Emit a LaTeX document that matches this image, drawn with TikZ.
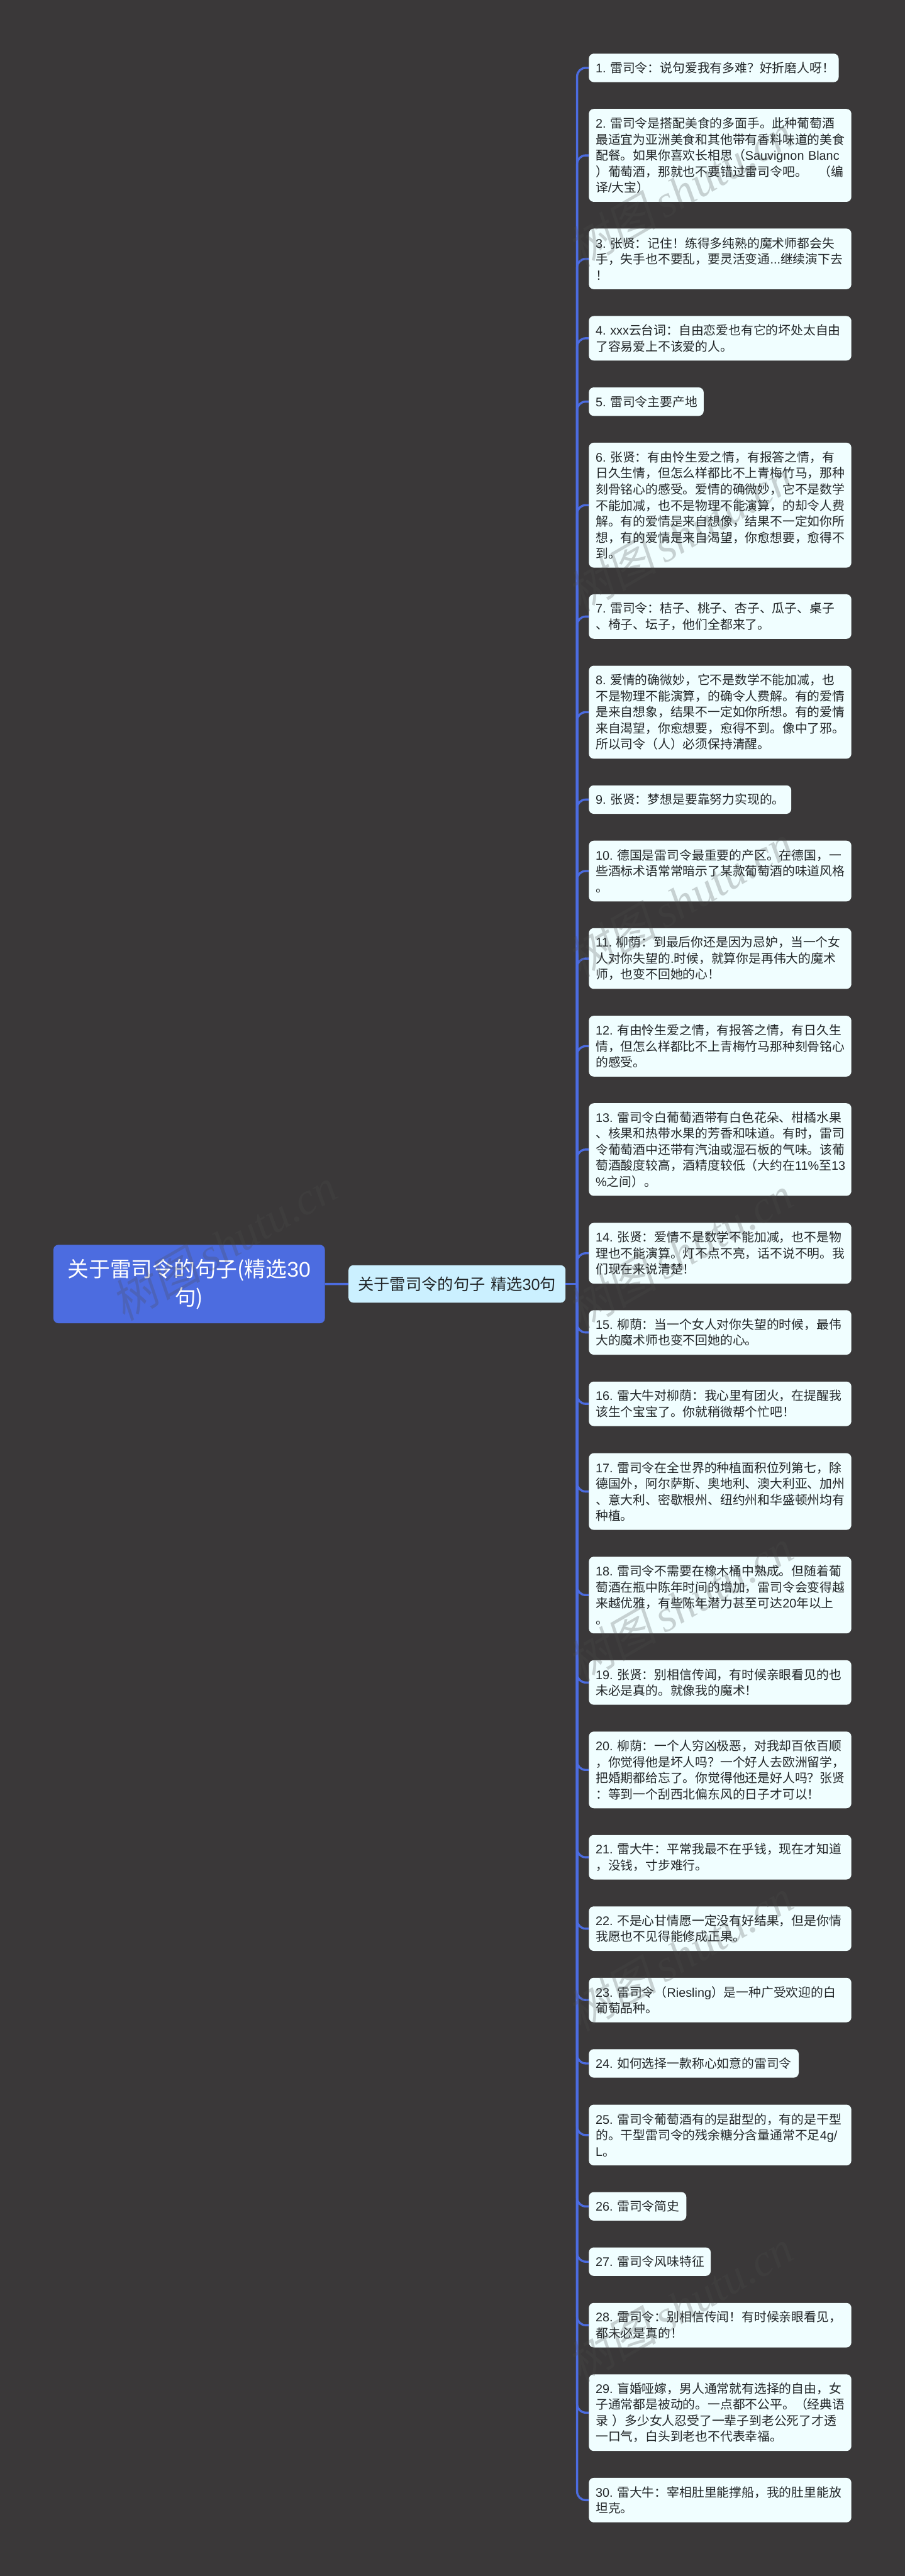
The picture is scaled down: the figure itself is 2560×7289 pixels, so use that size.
\documentclass[tikz,border=0pt]{standalone}
\usepackage{fontspec}
\setmainfont{Noto Sans CJK SC}
\newfontfamily\latfont{Liberation Sans}
\newfontfamily\wmcjk[FakeSlant=0.2]{Noto Sans CJK SC}
\newfontfamily\wmlat{Liberation Serif}[ItalicFont={Liberation Serif Italic}]
\newcommand{\ltn}[1]{{\latfont #1}}
\definecolor{bgc}{HTML}{3A3839}
\definecolor{linec}{HTML}{4C6CE0}
\definecolor{leafc}{HTML}{F0FEFF}
\definecolor{subc}{HTML}{CBF0FF}
\definecolor{inkc}{HTML}{222628}
\tikzset{
  x=1pt,y=-1pt,
  box/.style={rounded corners=14pt,inner ysep=0pt,anchor=north west,align=left,text=inkc},
  leaf/.style={box,fill=leafc,inner xsep=19.4pt,text width=704pt,
     font=\fontsize{35.25}{45.4}\selectfont},
  conn/.style={draw=linec,line width=6pt,rounded corners=24pt},
  wm/.style={rotate=30,text=black!70,opacity=0.25,inner sep=0pt,
     font=\fontsize{128}{128}\selectfont},
}
\newcommand{\wmtext}{{\wmcjk 树图}\,{\wmlat\itshape shutu.cn}}
\begin{document}
\begin{tikzpicture}
\useasboundingbox (0,0) rectangle (2560,7289);
\fill[bgc] (0,0) rectangle (2560,7289);

\node[box,fill=linec,text=white,anchor=north west,minimum width=768pt,minimum height=222pt,
  align=center,text width=740pt,inner xsep=14pt,font=\fontsize{60}{80}\selectfont] (root) at (151,3522)
  {关于雷司令的句子(精选\ltn{30}\\句)};
\node[box,fill=subc,anchor=west,minimum width=614pt,minimum height=106pt,
  align=center,text width=600pt,inner xsep=7pt,font=\fontsize{45}{56}\selectfont] (sub) at (986,3633)
  {关于雷司令的句子\ltn{~}精选\ltn{30}句};
\coordinate (J) at (1633,3633);

\node[leaf,text width=668pt,minimum height=80.6pt] (b1) at (1666,151.6) {\ltn{1.~}雷司令：说句爱我有多难？好折磨人呀！};
\node[leaf,minimum height=263pt] (b2) at (1666,308) {\ltn{2.~}雷司令是搭配美食的多面手。此种葡萄酒\\最适宜为亚洲美食和其他带有香料味道的美食\\配餐。如果你喜欢长相思（\ltn{Sauvignon~Blanc}\\）葡萄酒，那就也不要错过雷司令吧。\hspace{0.9em}（编\\译\ltn{/}大宝）};
\node[leaf,minimum height=171.6pt] (b3) at (1666,646.5) {\ltn{3.~}张贤：记住！练得多纯熟的魔术师都会失\\手，失手也不要乱，要灵活变通\ltn{...}继续演下去\\！};
\node[leaf,minimum height=126pt] (b4) at (1666,894) {\ltn{4.~xxx}云台词：自由恋爱也有它的坏处太自由\\了容易爱上不该爱的人。};
\node[leaf,text width=286pt,minimum height=80.6pt] (b5) at (1666,1096) {\ltn{5.~}雷司令主要产地};
\node[leaf,minimum height=353.6pt] (b6) at (1666,1252.4) {\ltn{6.~}张贤：有由怜生爱之情，有报答之情，有\\日久生情，但怎么样都比不上青梅竹马，那种\\刻骨铭心的感受。爱情的确微妙，它不是数学\\不能加减，也不是物理不能演算，的却令人费\\解。有的爱情是来自想像，结果不一定如你所\\想，有的爱情是来自渴望，你愈想要，愈得不\\到。};
\node[leaf,minimum height=126pt] (b7) at (1666,1681.4) {\ltn{7.~}雷司令：桔子、桃子、杏子、瓜子、桌子\\、椅子、坛子，他们全都来了。};
\node[leaf,minimum height=263pt] (b8) at (1666,1883.5) {\ltn{8.~}爱情的确微妙，它不是数学不能加减，也\\不是物理不能演算，的确令人费解。有的爱情\\是来自想象，结果不一定如你所想。有的爱情\\来自渴望，你愈想要，愈得不到。像中了邪。\\所以司令（人）必须保持清醒。};
\node[leaf,text width=534pt,minimum height=80.6pt] (b9) at (1666,2222) {\ltn{9.~}张贤：梦想是要靠努力实现的。};
\node[leaf,minimum height=172pt] (b10) at (1666,2378.5) {\ltn{10.~}德国是雷司令最重要的产区。在德国，一\\些酒标术语常常暗示了某款葡萄酒的味道风格\\。};
\node[leaf,minimum height=172pt] (b11) at (1666,2626) {\ltn{11.~}柳荫：到最后你还是因为忌妒，当一个女\\人对你失望的\ltn{.}时候，就算你是再伟大的魔术\\师，也变不回她的心！};
\node[leaf,minimum height=172pt] (b12) at (1666,2874) {\ltn{12.~}有由怜生爱之情，有报答之情，有日久生\\情，但怎么样都比不上青梅竹马那种刻骨铭心\\的感受。};
\node[leaf,minimum height=262pt] (b13) at (1666,3121.5) {\ltn{13.~}雷司令白葡萄酒带有白色花朵、柑橘水果\\、核果和热带水果的芳香和味道。有时，雷司\\令葡萄酒中还带有汽油或湿石板的气味。该葡\\萄酒酸度较高，酒精度较低（大约在\ltn{11\%}至\ltn{13}\\\ltn{\%}之间）。};
\node[leaf,minimum height=172pt] (b14) at (1666,3460) {\ltn{14.~}张贤：爱情不是数学不能加减，也不是物\\理也不能演算。灯不点不亮，话不说不明。我\\们现在来说清楚！};
\node[leaf,minimum height=126pt] (b15) at (1666,3707) {\ltn{15.~}柳荫：当一个女人对你失望的时候，最伟\\大的魔术师也变不回她的心。};
\node[leaf,minimum height=126pt] (b16) at (1666,3909) {\ltn{16.~}雷大牛对柳荫：我心里有团火，在提醒我\\该生个宝宝了。你就稍微帮个忙吧！};
\node[leaf,minimum height=217pt] (b17) at (1666,4111.7) {\ltn{17.~}雷司令在全世界的种植面积位列第七，除\\德国外，阿尔萨斯、奥地利、澳大利亚、加州\\、意大利、密歇根州、纽约州和华盛顿州均有\\种植。};
\node[leaf,minimum height=217pt] (b18) at (1666,4404.6) {\ltn{18.~}雷司令不需要在橡木桶中熟成。但随着葡\\萄酒在瓶中陈年时间的增加，雷司令会变得越\\来越优雅，有些陈年潜力甚至可达\ltn{20}年以上\\。};
\node[leaf,minimum height=126pt] (b19) at (1666,4697.5) {\ltn{19.~}张贤：别相信传闻，有时候亲眼看见的也\\未必是真的。就像我的魔术！};
\node[leaf,minimum height=217pt] (b20) at (1666,4899.4) {\ltn{20.~}柳荫：一个人穷凶极恶，对我却百依百顺\\，你觉得他是坏人吗？一个好人去欧洲留学，\\把婚期都给忘了。你觉得他还是好人吗？张贤\\：等到一个刮西北偏东风的日子才可以！};
\node[leaf,minimum height=126pt] (b21) at (1666,5192) {\ltn{21.~}雷大牛：平常我最不在乎钱，现在才知道\\，没钱，寸步难行。};
\node[leaf,minimum height=126pt] (b22) at (1666,5394) {\ltn{22.~}不是心甘情愿一定没有好结果，但是你情\\我愿也不见得能修成正果。};
\node[leaf,minimum height=126pt] (b23) at (1666,5596) {\ltn{23.~}雷司令（\ltn{Riesling}）是一种广受欢迎的白\\葡萄品种。};
\node[leaf,text width=555pt,minimum height=80.6pt] (b24) at (1666,5798) {\ltn{24.~}如何选择一款称心如意的雷司令};
\node[leaf,minimum height=172pt] (b25) at (1666,5955) {\ltn{25.~}雷司令葡萄酒有的是甜型的，有的是干型\\的。干型雷司令的残余糖分含量通常不足\ltn{4g/}\\\ltn{L}。};
\node[leaf,text width=237pt,minimum height=80.6pt] (b26) at (1666,6202.5) {\ltn{26.~}雷司令简史};
\node[leaf,text width=306pt,minimum height=80.6pt] (b27) at (1666,6359) {\ltn{27.~}雷司令风味特征};
\node[leaf,minimum height=126pt] (b28) at (1666,6516) {\ltn{28.~}雷司令：别相信传闻！有时候亲眼看见，\\都未必是真的！};
\node[leaf,minimum height=217pt] (b29) at (1666,6718) {\ltn{29.~}盲婚哑嫁，男人通常就有选择的自由，女\\子通常都是被动的。一点都不公平。（经典语\\录\ltn{~}）多少女人忍受了一辈子到老公死了才透\\一口气，白头到老也不代表幸福。};
\node[leaf,minimum height=126pt] (b30) at (1666,7011) {\ltn{30.~}雷大牛：宰相肚里能撑船，我的肚里能放\\坦克。};

\draw[conn] (root.east) -- (sub.west);
\draw[conn] (sub.east) -- (J);
\foreach \i in {1,...,30} \draw[conn] (J) |- (b\i.west);

\node[wm] (w0) at (633,3520) {\wmtext};
\node[wm] (w1) at (1924,540) {\wmtext};
\node[wm] (w2) at (1924,1515) {\wmtext};
\node[wm] (w3) at (1924,2549) {\wmtext};
\node[wm] (w4) at (1924,3543) {\wmtext};
\node[wm] (w5) at (1924,4542) {\wmtext};
\node[wm] (w6) at (1924,5531) {\wmtext};
\node[wm] (w7) at (1924,6525) {\wmtext};
\end{tikzpicture}
\end{document}
